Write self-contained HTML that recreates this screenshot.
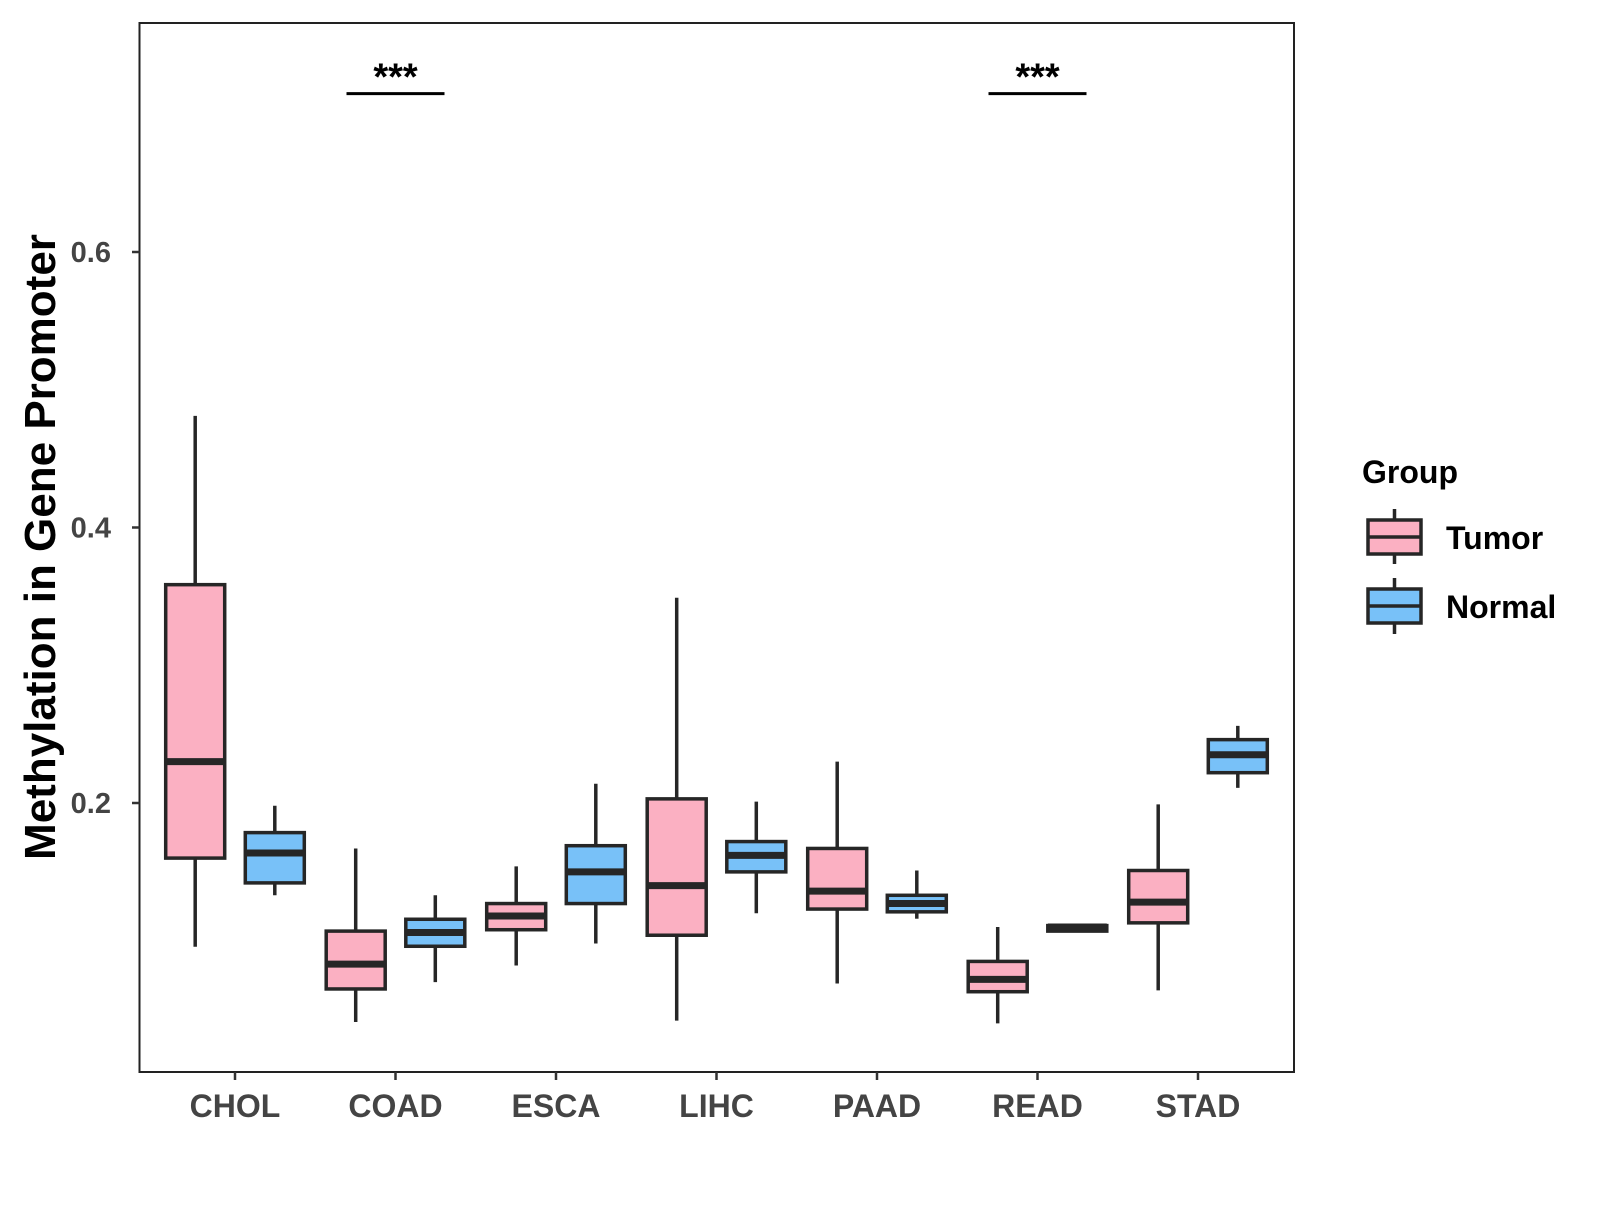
<!DOCTYPE html>
<html><head><meta charset="utf-8"><style>
body{margin:0;background:#fff}
svg text{font-family:"Liberation Sans",Arial,sans-serif;font-weight:bold}
</style></head><body>
<svg id="chart" width="1600" height="1200" xmlns="http://www.w3.org/2000/svg">
<rect x="139.5" y="23" width="1154.5" height="1049" fill="none" stroke="#222" stroke-width="2"/>
<g id="marks"></g>
<text transform="translate(55,547) rotate(-90)" text-anchor="middle" font-size="44" fill="#000">Methylation in Gene Promoter</text>
<g>
<text x="1362" y="483" font-size="32" fill="#000">Group</text>
<g>
<line x1="1394.5" x2="1394.5" y1="509" y2="564" stroke="#262626" stroke-width="3.5"/>
<rect x="1368" y="520" width="53" height="34" fill="#FBB0C2" stroke="#262626" stroke-width="3.5"/>
<line x1="1368" x2="1421" y1="537" y2="537" stroke="#262626" stroke-width="3.5"/>
<text x="1446" y="549" font-size="32" fill="#000">Tumor</text></g>
<g>
<line x1="1394.5" x2="1394.5" y1="578" y2="634" stroke="#262626" stroke-width="3.5"/>
<rect x="1368" y="589" width="53" height="34" fill="#78C1F8" stroke="#262626" stroke-width="3.5"/>
<line x1="1368" x2="1421" y1="606" y2="606" stroke="#262626" stroke-width="3.5"/>
<text x="1446" y="618" font-size="32" fill="#000">Normal</text></g>
</g>
</svg>
<script>
const categories=["CHOL","COAD","ESCA","LIHC","PAAD","READ","STAD"];
const tumorStats=[[0.0956,0.160,0.230,0.3585,0.481],[0.041,0.065,0.083,0.107,0.167],[0.082,0.108,0.118,0.127,0.154],[0.042,0.104,0.140,0.203,0.349],[0.069,0.123,0.136,0.167,0.230],[0.040,0.063,0.072,0.085,0.110],[0.064,0.113,0.128,0.151,0.199]];
const normalStats=[[0.133,0.142,0.1637,0.1785,0.198],[0.070,0.096,0.106,0.1156,0.133],[0.098,0.127,0.150,0.169,0.214],[0.120,0.150,0.162,0.172,0.201],[0.116,0.121,0.127,0.133,0.151],[0.106,0.107,0.110,0.111,0.112],[0.211,0.222,0.235,0.246,0.256]];
const yTicks=[0.2,0.4,0.6];
const sigCategories=["COAD","READ"];
const sigLabels=["***","***"];
const sigLevel=0.715;
const NS="http://www.w3.org/2000/svg";
const g=document.getElementById('marks');
function y(v){return 803-(v-0.2)*1377.5;}
function x(i){return 235+i*160.5;}
function el(t,a,p){const e=document.createElementNS(NS,t);for(const k in a)e.setAttribute(k,a[k]);(p||g).appendChild(e);return e;}
yTicks.forEach(t=>{
 const l=el('line',{x1:132,x2:139.5,y1:y(t),y2:y(t),stroke:'#333','stroke-width':2.5});
 
 
 const tx=el('text',{x:111,y:y(t)+10,'text-anchor':'end','font-size':29,fill:'#444'});tx.textContent=t.toFixed(1);
 
 
});
categories.forEach((c,i)=>{
 const l=el('line',{x1:x(i),x2:x(i),y1:1072,y2:1080,stroke:'#333','stroke-width':2.5});
 
 
 const tx=el('text',{x:x(i),y:1117,'text-anchor':'middle','font-size':32,fill:'#444'});tx.textContent=c;
 
 
 [[tumorStats[i],-39.8,'#FBB0C2','tumor'],[normalStats[i],39.8,'#78C1F8','normal']].forEach(([s,off,col,nm])=>{
  const cx=x(i)+off,w=59;
  const grp=el('g',{});
  
  
  el('line',{x1:cx,x2:cx,y1:y(s[0]),y2:y(s[4]),stroke:'#262626','stroke-width':3.5},grp);
  el('rect',{x:cx-w/2,y:y(s[3]),width:w,height:Math.max(1,y(s[1])-y(s[3])),fill:col,stroke:'#262626','stroke-width':3.5},grp);
  el('line',{x1:cx-w/2,x2:cx+w/2,y1:y(s[2]),y2:y(s[2]),stroke:'#262626','stroke-width':7},grp);
 });
});
sigCategories.forEach((c,k)=>{
 const i=categories.indexOf(c);
 const l=el('line',{x1:x(i)-49,x2:x(i)+49,y1:y(sigLevel),y2:y(sigLevel),stroke:'#000','stroke-width':3});
 
 
 const tx=el('text',{x:x(i),y:y(sigLevel)-4,'text-anchor':'middle','font-size':38,fill:'#000'});tx.textContent=sigLabels[k];
 
 
});
</script>
</body></html>
